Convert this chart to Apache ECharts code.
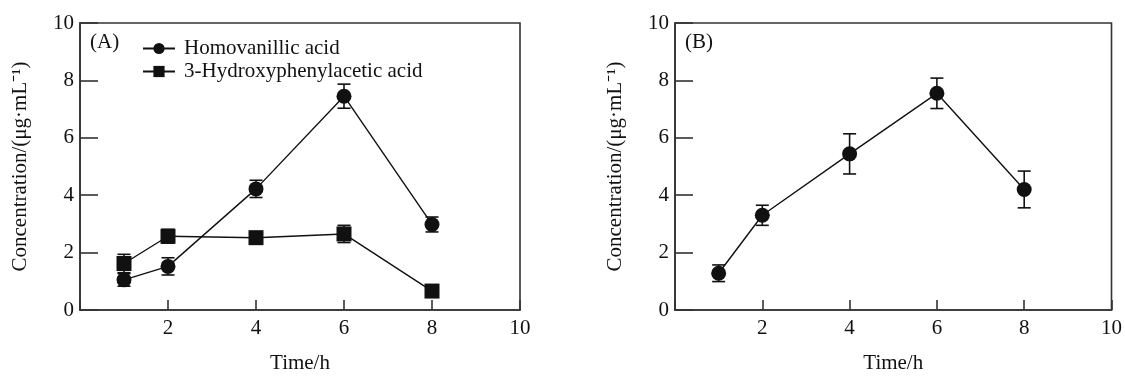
<!DOCTYPE html>
<html>
<head>
<meta charset="utf-8">
<script src="https://cdn.jsdelivr.net/npm/echarts@6/dist/echarts.min.js"></script>
<style>
html,body{margin:0;padding:0;background:#fff;}
#chart{width:1125px;height:379px;}
</style>
</head>
<body>
<div id="chart"></div>
<script>
// ---- data ----
const times = [1, 2, 4, 6, 8];
const xTicks = [0, 2, 4, 6, 8, 10];
const yTicks = [0, 2, 4, 6, 8, 10];
const seriesNames = ['Homovanillic acid', '3-Hydroxyphenylacetic acid'];
const panelLabels = ['(A)', '(B)'];
const axisNames = ['Time/h', 'Concentration/(μg·mL⁻¹)'];

const hvaA = [1.05, 1.52, 4.22, 7.45, 2.98];
const hvaAErr = [0.22, 0.30, 0.30, 0.42, 0.26];
const hpaA = [1.62, 2.57, 2.52, 2.65, 0.66];
const hpaAErr = [0.32, 0.24, 0.10, 0.30, 0.05];
const hvaB = [1.28, 3.30, 5.44, 7.55, 4.20];
const hvaBErr = [0.29, 0.35, 0.70, 0.53, 0.64];

// ---- styling ----
const FONT = "'Liberation Serif', 'Times New Roman', serif";
const FS = 21;
const INK = '#111';
const AX = '#333';

function pairs(vals) { return times.map((t, i) => [t, vals[i]]); }
function errData(vals, errs) { return times.map((t, i) => [t, vals[i] - errs[i], vals[i] + errs[i]]); }

function errorSeries(idx, vals, errs) {
  return {
    type: 'custom',
    xAxisIndex: idx, yAxisIndex: idx,
    silent: true, z: 1,
    data: errData(vals, errs),
    renderItem: function (params, api) {
      const x = api.value(0);
      const lo = api.coord([x, api.value(1)]);
      const hi = api.coord([x, api.value(2)]);
      const w = 6.5;
      const st = { stroke: INK, lineWidth: 1.6 };
      return {
        type: 'group',
        children: [
          { type: 'line', shape: { x1: lo[0], y1: lo[1], x2: hi[0], y2: hi[1] }, style: st },
          { type: 'line', shape: { x1: lo[0] - w, y1: lo[1], x2: lo[0] + w, y2: lo[1] }, style: st },
          { type: 'line', shape: { x1: hi[0] - w, y1: hi[1], x2: hi[0] + w, y2: hi[1] }, style: st }
        ]
      };
    }
  };
}

function xAxisDef(idx) {
  return {
    type: 'value', gridIndex: idx, min: xTicks[0], max: xTicks[xTicks.length - 1], interval: 2,
    name: axisNames[0], nameLocation: 'middle', nameGap: 43,
    nameTextStyle: { fontFamily: FONT, fontSize: FS, color: INK },
    axisLine: { show: true, lineStyle: { color: AX, width: 1.6 } },
    axisTick: { show: true, inside: true, length: 10, lineStyle: { color: AX, width: 1.6 } },
    axisLabel: { fontFamily: FONT, fontSize: FS, color: INK, margin: 8,
      formatter: v => (v === 0 ? '' : String(v)) },
    splitLine: { show: false }
  };
}
function yAxisDef(idx) {
  return {
    type: 'value', gridIndex: idx, min: yTicks[0], max: yTicks[yTicks.length - 1], interval: 2,
    name: axisNames[1], nameLocation: 'middle', nameGap: 49, nameRotate: 90,
    nameTextStyle: { fontFamily: FONT, fontSize: FS, color: INK },
    axisLine: { show: true, lineStyle: { color: AX, width: 1.6 } },
    axisTick: { show: true, inside: true, length: 18, lineStyle: { color: AX, width: 1.6 } },
    axisLabel: { fontFamily: FONT, fontSize: FS, color: INK, margin: 6 },
    splitLine: { show: false }
  };
}

const lineBase = {
  type: 'line', symbolSize: 15, z: 3,
  itemStyle: { color: INK },
  lineStyle: { color: INK, width: 1.4 }
};

const option = {
  animation: false,
  backgroundColor: '#fff',
  grid: [
    { left: 80, top: 23, width: 440, height: 293, show: true, borderColor: AX, borderWidth: 1.6, backgroundColor: 'transparent' },
    { left: 675, top: 23, width: 438, height: 293, show: true, borderColor: AX, borderWidth: 1.6, backgroundColor: 'transparent' }
  ],
  xAxis: [xAxisDef(0), xAxisDef(1)],
  yAxis: [yAxisDef(0), yAxisDef(1)],
  legend: {
    left: 137, top: 33, orient: 'vertical', itemGap: 2, itemWidth: 32, itemHeight: 14,
    data: seriesNames,
    textStyle: { fontFamily: FONT, fontSize: FS, color: INK, padding: [0, 0, 0, 4] }
  },
  graphic: [
    { type: 'text', left: 90, top: 32, style: { text: panelLabels[0], font: FS + 'px ' + FONT, fill: INK } },
    { type: 'text', left: 685, top: 32, style: { text: panelLabels[1], font: FS + 'px ' + FONT, fill: INK } }
  ],
  series: [
    errorSeries(0, hvaA, hvaAErr),
    errorSeries(0, hpaA, hpaAErr),
    errorSeries(1, hvaB, hvaBErr),
    Object.assign({}, lineBase, { name: seriesNames[0], symbol: 'circle', xAxisIndex: 0, yAxisIndex: 0, data: pairs(hvaA) }),
    Object.assign({}, lineBase, { name: seriesNames[1], symbol: 'rect', xAxisIndex: 0, yAxisIndex: 0, data: pairs(hpaA) }),
    Object.assign({}, lineBase, { name: 'B ' + seriesNames[0], symbol: 'circle', xAxisIndex: 1, yAxisIndex: 1, data: pairs(hvaB) })
  ]
};

const chart = echarts.init(document.getElementById('chart'), null, { renderer: 'canvas' });
chart.setOption(option);
</script>
</body>
</html>
